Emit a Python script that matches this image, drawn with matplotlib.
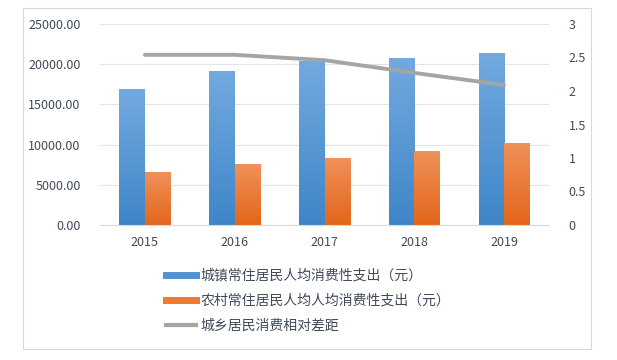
import numpy as np
import matplotlib.pyplot as plt
from matplotlib.lines import Line2D
from matplotlib.patches import Rectangle
from matplotlib.colors import LinearSegmentedColormap

plt.rcParams['font.family'] = ['Noto Sans CJK SC', 'DejaVu Sans']

# data
years = ['2015', '2016', '2017', '2018', '2019']
urban = [16880, 19150, 20320, 20730, 21360]
rural = [6590, 7550, 8250, 9080, 10160]
gap = [2.54, 2.54, 2.46, 2.27, 2.09]
labels = ['城镇常住居民人均消费性支出（元）',
          '农村常住居民人均人均消费性支出（元）',
          '城乡居民消费相对差距']

W, H = 617, 360
fig = plt.figure(figsize=(W / 100, H / 100), dpi=100)
ax = fig.add_axes([100 / W, 1 - 225 / H, 449 / W, 201 / H])

# outer border of the chart
fig.patches.append(Rectangle((23 / W, 1 - 349 / H), 568 / W, 341 / H,
                             transform=fig.transFigure, fill=False,
                             edgecolor='#d9d9d9', lw=0.8))

blue_cm = LinearSegmentedColormap.from_list('b', ['#3f86c8', '#72a9df'])
orange_cm = LinearSegmentedColormap.from_list('o', ['#e3661a', '#f0905a'])

x = np.arange(len(years))
w = 0.285
grad = np.linspace(0, 1, 64).reshape(-1, 1)

def gradient_bars(xs, vals, cmap):
    for xi, v in zip(xs, vals):
        ax.imshow(grad, extent=(xi - w / 2, xi + w / 2, 0, v), origin='lower',
                  cmap=cmap, aspect='auto', zorder=2)

gradient_bars(x - w / 2, urban, blue_cm)
gradient_bars(x + w / 2, rural, orange_cm)

ax.set_xlim(-0.5, 4.5)
ax.set_ylim(0, 25000)
ax.set_yticks(np.arange(0, 25001, 5000))
ax.yaxis.set_major_formatter(plt.FormatStrFormatter('%.2f'))
ax.set_xticks(x)
ax.set_xticklabels(years)
ax.grid(axis='y', color='#e4e4e4', lw=0.8, zorder=0)
ax.set_axisbelow(True)
for s in ['top', 'right', 'left']:
    ax.spines[s].set_visible(False)
ax.spines['bottom'].set_color('#d9d9d9')
ax.tick_params(axis='both', length=0, labelsize=9, colors='#404a5a')
ax.tick_params(axis='x', pad=8)
ax.tick_params(axis='y', pad=14)

ax2 = ax.twinx()
ax2.plot(x, gap, color='#a5a5a5', lw=2.8, solid_capstyle='round', zorder=3)
ax2.set_ylim(0, 3)
ax2.set_yticks([0, 0.5, 1, 1.5, 2, 2.5, 3])
ax2.set_yticklabels(['0', '0.5', '1', '1.5', '2', '2.5', '3'])
ax2.tick_params(axis='y', length=0, labelsize=9, colors='#404a5a', pad=14)
for s in ax2.spines.values():
    s.set_visible(False)

handles = [Line2D([], [], color='#4f92d4', lw=5),
           Line2D([], [], color='#ec7a30', lw=5),
           Line2D([], [], color='#a5a5a5', lw=3)]
fig.legend(handles, labels, loc='upper left', bbox_to_anchor=(153 / W, 1 - 256 / H),
           frameon=False, fontsize=10, labelcolor='#404a5a', handlelength=2.2,
           handletextpad=0.3, labelspacing=0.8)

fig.savefig('out.png', dpi=100)
